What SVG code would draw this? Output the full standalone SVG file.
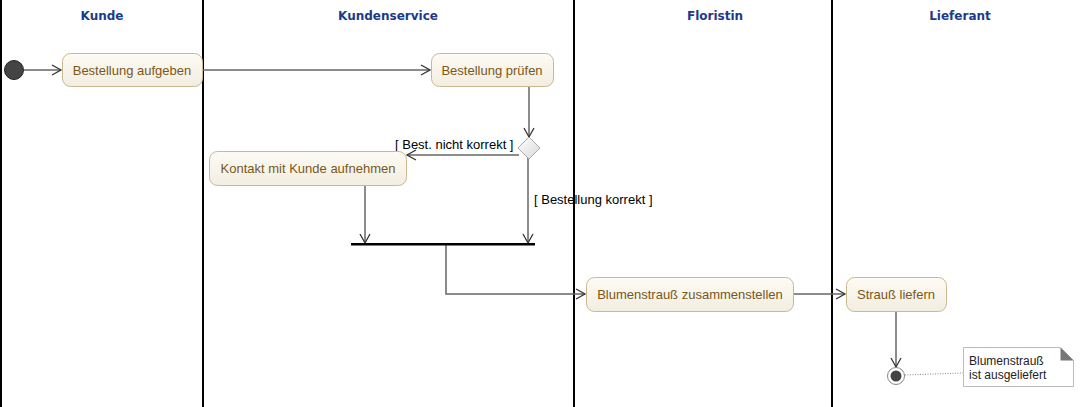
<svg xmlns="http://www.w3.org/2000/svg" width="1088" height="407" viewBox="0 0 1088 407">
<defs>
<linearGradient id="g" x1="0" y1="0" x2="0" y2="1"><stop offset="0" stop-color="#fdfbf5"/><stop offset="1" stop-color="#f2ede1"/></linearGradient>
<linearGradient id="dg" x1="0" y1="0" x2="1" y2="1"><stop offset="0" stop-color="#ffffff"/><stop offset="1" stop-color="#d8d8d8"/></linearGradient>
<marker id="arr" markerWidth="12" markerHeight="12" refX="10" refY="6" orient="auto" markerUnits="userSpaceOnUse"><path d="M1,1 L10,6 L1,11" fill="none" stroke="#333" stroke-width="1.3"/></marker>
<style>
.lane{stroke:#000;stroke-width:2;fill:none}
.title{font-family:"DejaVu Sans",sans-serif;font-weight:bold;font-size:12px;fill:#1c3a8a;text-anchor:middle}
.act{fill:url(#g);stroke:#cbb88f;stroke-width:1}
.at{font-family:"Liberation Sans",Arial,sans-serif;font-size:13px;fill:#7a5818;text-anchor:middle}
.c{stroke:#666;stroke-width:1.5;fill:none}
.lbl{font-family:"Liberation Sans",Arial,sans-serif;font-size:13px;fill:#000}
</style>
</defs>
<g id="lanes">
<line class="lane" x1="1" y1="0" x2="1" y2="407"/>
<line class="lane" x1="203" y1="0" x2="203" y2="407"/>
<line class="lane" x1="574" y1="0" x2="574" y2="407"/>
<line class="lane" x1="832" y1="0" x2="832" y2="407"/>
<text class="title" x="102" y="20">Kunde</text>
<text class="title" x="388" y="20">Kundenservice</text>
<text class="title" x="715" y="20">Floristin</text>
<text class="title" x="960" y="20">Lieferant</text>
</g>
<g id="connectors">
<line class="c" x1="24" y1="70" x2="61" y2="70" marker-end="url(#arr)"/>
<line class="c" x1="202" y1="70" x2="430" y2="70" marker-end="url(#arr)"/>
<line class="c" x1="529" y1="86" x2="529" y2="137" marker-end="url(#arr)"/>
<line class="c" x1="519" y1="155" x2="407" y2="155" marker-end="url(#arr)"/>
<line class="c" x1="528" y1="158" x2="528" y2="243" marker-end="url(#arr)"/>
<line class="c" x1="365" y1="185" x2="365" y2="243" marker-end="url(#arr)"/>
<polyline class="c" points="446,245 446,294 585,294" marker-end="url(#arr)"/>
<line class="c" x1="793" y1="294" x2="845" y2="294" marker-end="url(#arr)"/>
<line class="c" x1="896" y1="311" x2="896" y2="367" marker-end="url(#arr)"/>
<line x1="905" y1="375" x2="963" y2="373" stroke="#888" stroke-width="1" stroke-dasharray="1,1.5"/>
<text class="lbl" x="395" y="149">[ Best. nicht korrekt ]</text>
<text class="lbl" x="534" y="204">[ Bestellung korrekt ]</text>
</g>
<g id="start"><circle cx="14" cy="70" r="9.5" fill="#444" stroke="#222" stroke-width="1"/></g>
<g id="n1"><rect class="act" x="62.5" y="53.5" width="140" height="33" rx="8"/><text class="at" x="132" y="75">Bestellung aufgeben</text></g>
<g id="n2"><rect class="act" x="431.5" y="53.5" width="122" height="33" rx="8"/><text class="at" x="492" y="75">Bestellung prüfen</text></g>
<g id="dec"><path d="M529,137 L540,148 L529,159 L518,148 Z" fill="url(#dg)" stroke="#aaa" stroke-width="1"/></g>
<g id="n3"><rect class="act" x="209.5" y="151.5" width="197" height="34" rx="8"/><text class="at" x="308" y="173">Kontakt mit Kunde aufnehmen</text></g>
<g id="join"><rect x="351" y="243" width="184" height="2.5" fill="#000"/></g>
<g id="n4"><rect class="act" x="586.5" y="277.5" width="207" height="34" rx="8"/><text class="at" x="690" y="299">Blumenstrauß zusammenstellen</text></g>
<g id="n5"><rect class="act" x="846.5" y="277.5" width="100" height="34" rx="8"/><text class="at" x="896" y="299">Strauß liefern</text></g>
<g id="end"><circle cx="896" cy="376" r="8.5" fill="#fff" stroke="#888" stroke-width="1"/><circle cx="896" cy="376" r="5.5" fill="#444"/></g>
<g id="note"><path d="M963.5,347.5 L1060.5,347.5 L1073.5,360.5 L1073.5,386.5 L963.5,386.5 Z" fill="#fff" stroke="#bbb" stroke-width="1"/><path d="M1060.5,347.5 L1073.5,360.5 L1060.5,360.5 Z" fill="#777"/><text font-family="'Liberation Sans',Arial,sans-serif" font-size="12" fill="#222"><tspan x="969" y="365">Blumenstrauß</tspan><tspan x="969" y="379">ist ausgeliefert</tspan></text></g>
</svg>
